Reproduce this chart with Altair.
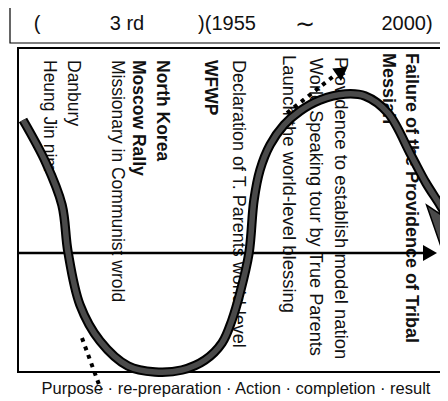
import altair as alt
import pandas as pd

# ---------------- data (pixel-like diagram coordinates) ----------------
header_text = ["(", "3 rd", ")(1955", "2000)"]
header_x = [37, 127, 227, 407]
header_y = [24, 24, 24, 24]
tilde_text = ["∼"]
tilde_x = [305]
tilde_y = [25]

box_x0 = [10, 18]
box_y0 = [7, 48]
box_x1 = [480, 480]
box_y1 = [43, 372]
box_sw = [1.2, 2.0]

labels = ["Heung Jin nim", "Danbury", "Missionary in Communist wrold",
          "Moscow Rally", "North Korea", "WFWP",
          "Declaration of T. Parents world-level",
          "Launch the world-level blessing",
          "World Speaking tour by True Parents",
          "Providence to establish model nation",
          "Messiah", "Failure of the Providence of Tribal"]
label_x = [49, 73, 117, 138, 162, 210, 238, 289, 315, 341, 388, 411]
label_y = [60, 60, 60, 60, 60, 60, 60, 55, 58, 57, 53, 53]
label_size = [17.5, 17.5, 17.5, 17.5, 17.5, 17.5, 18, 18.5, 18.2, 18.5, 18, 18]
label_bold = [False, False, False, True, True, True,
              False, False, False, False, True, True]

curve_x = [23, 46, 62, 68, 80, 100, 128, 155, 182, 205, 222, 232, 240, 249,
           254, 260, 270, 284, 300, 320, 345, 365, 388, 411, 426, 440, 450]
curve_y = [120, 163, 205, 252, 305, 341, 366, 372, 370, 360, 343, 320, 293, 253,
           200, 170, 145, 125, 111, 100, 94, 96, 113, 155, 183, 205, 222]

head_x = [453]
head_y = [248]

axis_x = [18, 426]
axis_y = [253, 253]
axis_head_x = [430]
axis_head_y = [253]

dot1_x = [287, 335]
dot1_y = [113, 75]
dot1_head_x = [342]
dot1_head_y = [71]

dot2_x = [82, 101]
dot2_y = [338, 390]

footer_text = ["Purpose · re-preparation · Action · completion · result"]
footer_x = [236]
footer_y = [389]

# ---------------- scales ----------------
W, H = 432, 393
xs = alt.Scale(domain=[8, 440], zero=False, nice=False)
ys = alt.Scale(domain=[8, 401], zero=False, nice=False, reverse=True)
FONT = "Liberation Sans"


def X(f="x"):
    return alt.X(f"{f}:Q", scale=xs, axis=None)


def Y(f="y"):
    return alt.Y(f"{f}:Q", scale=ys, axis=None)


boxes = pd.DataFrame({"x": box_x0, "y": box_y0, "x1": box_x1, "y1": box_y1, "sw": box_sw})
box_layer = alt.Chart(boxes).mark_rect(fillOpacity=0, stroke="black").encode(
    x=X(), x2=alt.X2("x1:Q"), y=Y(), y2=alt.Y2("y1:Q"),
    strokeWidth=alt.StrokeWidth("sw:Q", scale=None))

hdr = pd.DataFrame({"t": header_text, "x": header_x, "y": header_y})
hdr_layer = alt.Chart(hdr).mark_text(font=FONT, fontSize=20, color="#111",
                                     align="center", baseline="middle").encode(
    x=X(), y=Y(), text="t:N")

tl = pd.DataFrame({"t": tilde_text, "x": tilde_x, "y": tilde_y})
tilde_layer = alt.Chart(tl).mark_text(font="DejaVu Sans", fontSize=24, color="#111",
                                      align="center", baseline="middle").encode(
    x=X(), y=Y(), text="t:N")

lab = pd.DataFrame({"t": labels, "x": label_x, "y": label_y, "b": label_bold, "fs": label_size})
lab_norm = alt.Chart(lab).transform_filter("!datum.b").mark_text(
    font=FONT, angle=90, align="left", baseline="middle", color="#111").encode(
    x=X(), y=Y(), text="t:N", size=alt.Size("fs:Q", scale=None))
lab_bold = alt.Chart(lab).transform_filter("datum.b").mark_text(
    font=FONT, fontWeight="bold", angle=90, align="left",
    baseline="middle", color="#111").encode(
    x=X(), y=Y(), text="t:N", size=alt.Size("fs:Q", scale=None))

ax = pd.DataFrame({"x": axis_x, "y": axis_y})
axis_layer = alt.Chart(ax).mark_line(color="black", strokeWidth=2.5).encode(x=X(), y=Y())
axh = pd.DataFrame({"x": axis_head_x, "y": axis_head_y})
axis_head = alt.Chart(axh).mark_point(shape="triangle-right", filled=True, color="black",
                                      size=260, opacity=1).encode(x=X(), y=Y())

d1 = pd.DataFrame({"x": dot1_x, "y": dot1_y})
dot1_layer = alt.Chart(d1).mark_line(color="black", strokeWidth=4, strokeDash=[4, 5]).encode(
    x=X(), y=Y())
d1h = pd.DataFrame({"x": dot1_head_x, "y": dot1_head_y})
dot1_head = alt.Chart(d1h).mark_point(shape="triangle-up", filled=True, color="black",
                                      size=230, angle=55, opacity=1).encode(x=X(), y=Y())
d2 = pd.DataFrame({"x": dot2_x, "y": dot2_y})
dot2_layer = alt.Chart(d2).mark_line(color="black", strokeWidth=4, strokeDash=[4, 5]).encode(
    x=X(), y=Y())

cv = pd.DataFrame({"x": curve_x, "y": curve_y, "i": list(range(len(curve_x)))})
curve_outer = alt.Chart(cv).mark_line(color="black", strokeWidth=9.5, interpolate="catmull-rom",
                                      strokeCap="butt").encode(
    x=X(), y=Y(), order="i:Q")
curve_inner = alt.Chart(cv).mark_line(color="#4a4a4a", strokeWidth=5.5, interpolate="catmull-rom",
                                      strokeCap="butt").encode(
    x=X(), y=Y(), order="i:Q")

hd = pd.DataFrame({"x": head_x, "y": head_y})
head_layer = alt.Chart(hd).mark_point(
    shape="M -0.5 -1 L 0 1 L 0.5 -1 L 0 -0.6 Z", filled=True, fill="#4a4a4a",
    stroke="black", strokeWidth=1.5, size=8100, angle=355, opacity=1).encode(x=X(), y=Y())

ft = pd.DataFrame({"t": footer_text, "x": footer_x, "y": footer_y})
footer_layer = alt.Chart(ft).mark_text(font=FONT, fontSize=16.5, color="#111",
                                       align="center", baseline="middle").encode(
    x=X(), y=Y(), text="t:N")

chart = alt.layer(
    box_layer, hdr_layer, tilde_layer, lab_norm, lab_bold, axis_layer, axis_head,
    dot1_layer, dot2_layer, curve_outer, curve_inner, head_layer, dot1_head, footer_layer
).properties(
    width=W, height=H, padding=0, autosize=alt.AutoSizeParams(type="none"),
    background="white"
).configure_view(stroke=None)

chart.save("out.html", embed_options={"renderer": "svg", "actions": False})
